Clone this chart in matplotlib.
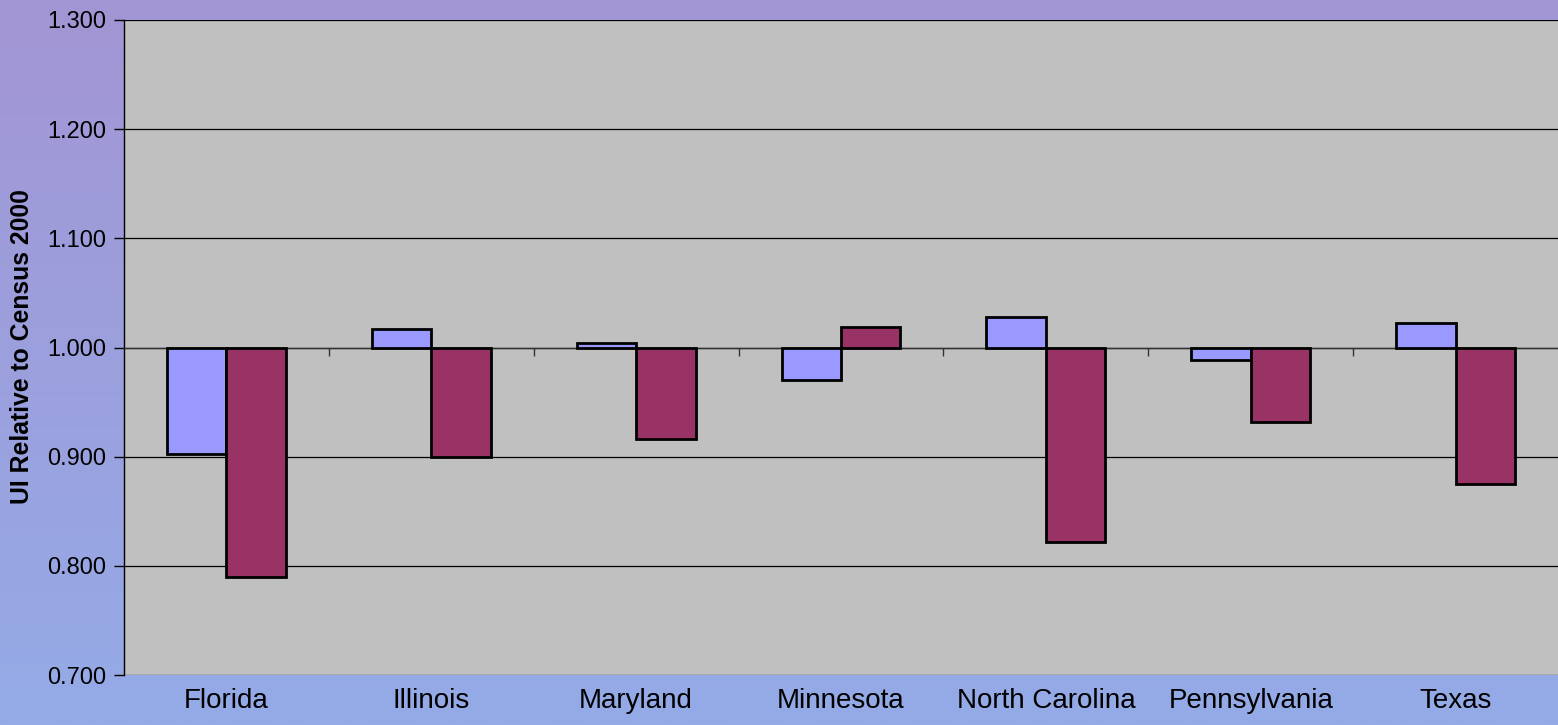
import matplotlib
matplotlib.use("Agg")
import matplotlib.pyplot as plt
import numpy as np

plt.rcParams['font.family'] = ['Liberation Sans', 'DejaVu Sans']

# data
states = ['Florida', 'Illinois', 'Maryland', 'Minnesota', 'North Carolina', 'Pennsylvania', 'Texas']
series_a = [0.902, 1.017, 1.004, 0.970, 1.028, 0.989, 1.022]
series_b = [0.790, 0.900, 0.916, 1.019, 0.822, 0.932, 0.875]
base = 1.0
y_ticks = [0.7, 0.8, 0.9, 1.0, 1.1, 1.2, 1.3]

fig = plt.figure(figsize=(15.58, 7.25), dpi=100)

# gradient background (purple -> blue)
bg = fig.add_axes([0, 0, 1, 1], zorder=-10)
top = np.array([163, 149, 212]) / 255
bot = np.array([148, 171, 231]) / 255
t = np.linspace(0, 1, 256)[:, None]
grad = top[None, :] * (1 - t) + bot[None, :] * t
bg.imshow(grad[:, None, :], aspect='auto', extent=[0, 1, 0, 1])
bg.axis('off')

ax = fig.add_axes([124 / 1558, 1 - 675 / 725, 1 - 124 / 1558, (675 - 20) / 725])
ax.set_facecolor('#C0C0C0')

x = np.arange(len(states))
w = 0.29
ha = [v - base for v in series_a]
hb = [v - base for v in series_b]
ax.bar(x - w / 2, ha, w, bottom=base, color='#9999FF', edgecolor='black', linewidth=2.0, zorder=3)
ax.bar(x + w / 2, hb, w, bottom=base, color='#993366', edgecolor='black', linewidth=2.0, zorder=3)

ax.set_ylim(0.7, 1.3)
ax.set_xlim(-0.5, len(states) - 0.5)
ax.set_yticks(y_ticks)
ax.set_yticklabels([f'{v:.3f}' for v in y_ticks])
ax.yaxis.grid(True, color='black', linewidth=0.9, zorder=1)
ax.set_axisbelow(True)
ax.tick_params(axis='y', length=7, width=1, pad=6, labelsize=17, colors='black')

for s in ['top', 'right']:
    ax.spines[s].set_visible(False)
ax.spines['left'].set_color('black')
ax.spines['left'].set_linewidth(1)

# category axis crosses at 1.000, tick marks between categories
ax.spines['bottom'].set_position(('data', base))
ax.spines['bottom'].set_color('#333333')
ax.spines['bottom'].set_linewidth(1)
ax.set_xticks(np.arange(0.5, len(states) - 0.5, 1.0))
ax.tick_params(axis='x', length=6, width=1, labelbottom=False, colors='#333333')

sec = ax.secondary_xaxis(0.0)
sec.set_xticks(x)
sec.set_xticklabels(states)
sec.tick_params(length=0, pad=9, labelsize=20)
sec.spines['bottom'].set_visible(False)

fig.text(22 / 1558, 1 - 347 / 725, 'UI Relative to Census 2000', rotation=90,
         ha='center', va='center', fontsize=17.8, fontweight='bold')

fig.savefig('out.png', dpi=100)
